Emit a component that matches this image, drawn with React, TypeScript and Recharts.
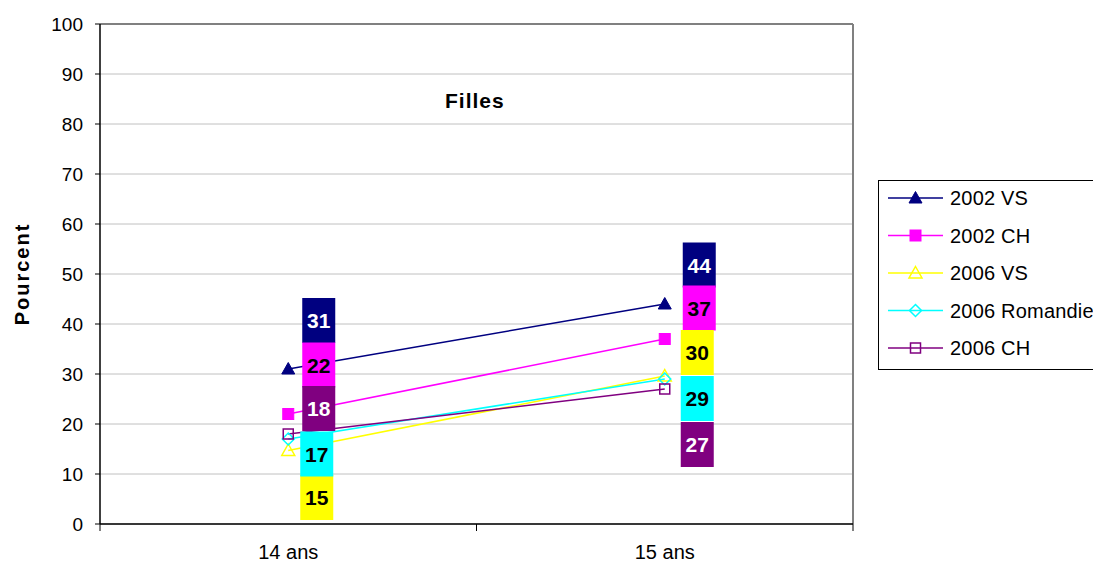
import {
  LineChart,
  Line,
  XAxis,
  YAxis,
  CartesianGrid,
  ReferenceLine,
  LabelList,
  Label,
} from "recharts";

const categories = ["14 ans", "15 ans"];
const vs2002 = [31, 44];
const ch2002 = [22, 37];
const vs2006 = [14.7, 29.6];
const romandie2006 = [17, 29];
const ch2006 = [18, 27];
const yTicks = [0, 10, 20, 30, 40, 50, 60, 70, 80, 90, 100];
const xTicks = [0, 0.5, 1, 1.5, 2];

type MarkerKind = "triangle" | "square" | "diamond";

const series = [
  { key: "vs2002", name: "2002 VS", values: vs2002, color: "#000080", marker: "triangle" as MarkerKind, filled: true, text: "#ffffff" },
  { key: "ch2002", name: "2002 CH", values: ch2002, color: "#ff00ff", marker: "square" as MarkerKind, filled: true, text: "#000000" },
  { key: "vs2006", name: "2006 VS", values: vs2006, color: "#ffff00", marker: "triangle" as MarkerKind, filled: false, text: "#000000" },
  { key: "rom2006", name: "2006 Romandie", values: romandie2006, color: "#00ffff", marker: "diamond" as MarkerKind, filled: false, text: "#000000" },
  { key: "ch2006", name: "2006 CH", values: ch2006, color: "#800080", marker: "square" as MarkerKind, filled: false, text: "#ffffff" },
];

// where each value box sits, relative to its point (px)
const labelNudge: Record<string, [number, number][]> = {
  vs2002: [[30.5, -48.5], [34.5, -39]],
  ch2002: [[30.5, -49], [34.5, -31]],
  vs2006: [[28.5, 47], [32.5, -23.5]],
  rom2006: [[28.5, 15], [32.5, 19.5]],
  ch2006: [[30.5, -25.5], [32.5, 55.5]],
};

const data = categories.map((cat, i) => {
  const row: Record<string, string | number> = { cat, pos: i + 0.5 };
  series.forEach((s) => (row[s.key] = s.values[i]));
  return row;
});

const FONT = "'Liberation Sans', Arial, sans-serif";

function Marker({ kind, cx, cy, color, filled }: { kind: MarkerKind; cx: number; cy: number; color: string; filled: boolean }) {
  const fill = filled ? color : "none";
  const sw = filled ? 1 : 1.5;
  if (kind === "triangle") {
    return <polygon points={`${cx},${cy - 6.5} ${cx + 6.5},${cy + 5} ${cx - 6.5},${cy + 5}`} fill={fill} stroke={color} strokeWidth={sw} />;
  }
  if (kind === "diamond") {
    return <polygon points={`${cx},${cy - 6} ${cx + 6},${cy} ${cx},${cy + 6} ${cx - 6},${cy}`} fill={fill} stroke={color} strokeWidth={sw} />;
  }
  const h = filled ? 5.5 : 5;
  return <rect x={cx - h} y={cy - h} width={h * 2} height={h * 2} fill={fill} stroke={color} strokeWidth={sw} />;
}

const XTick = (props: any) => {
  const { x, y, payload } = props;
  const v = payload.value as number;
  if (Number.isInteger(v)) {
    return <line x1={x} x2={x} y1={y} y2={y + 7} stroke="#000" strokeWidth={1} />;
  }
  return (
    <text x={x} y={y + 35} textAnchor="middle" fontSize={20} fontFamily={FONT} fill="#000">
      {categories[Math.floor(v)]}
    </text>
  );
};

const valueBox = (s: (typeof series)[number]) => (props: any) => {
  const { x, y, value, index } = props;
  if (x == null || y == null) return null;
  const [dx, dy] = labelNudge[s.key][index];
  const cx = x + dx;
  const cy = y + dy;
  return (
    <g key={`${s.key}-${index}`}>
      <rect x={cx - 16.5} y={cy - 22.5} width={33} height={45} fill={s.color} />
      <text x={cx} y={cy + 7.5} textAnchor="middle" fontSize={21} fontWeight="bold" fontFamily={FONT} fill={s.text}>
        {Math.round(value)}
      </text>
    </g>
  );
};

export default function App() {
  return (
    <div style={{ position: "absolute", left: 0, top: 0, width: 1093, height: 564, overflow: "hidden", background: "#fff", fontFamily: FONT }}>
      <LineChart width={1093} height={564} data={data} margin={{ top: 24, right: 240, left: 0, bottom: 0 }}>
        <CartesianGrid vertical={false} stroke="#c0c0c0" />
        <XAxis
          dataKey="pos"
          type="number"
          domain={[0, 2]}
          ticks={xTicks}
          height={40}
          tickSize={0}
          tickMargin={0}
          tickLine={false}
          axisLine={{ stroke: "#000", strokeWidth: 1.5 }}
          tick={<XTick />}
          interval={0}
        />
        <YAxis
          domain={[0, 100]}
          ticks={yTicks}
          width={100}
          tickSize={5}
          tickMargin={12}
          axisLine={{ stroke: "#000", strokeWidth: 1.5 }}
          tickLine={{ stroke: "#000" }}
          tick={{ fontSize: 19, fill: "#000", fontFamily: FONT }}
          interval={0}
        >
          <Label
            content={() => (
              <text transform="translate(29,274) rotate(-90)" textAnchor="middle" fontSize={20} fontWeight="bold" letterSpacing={2} fontFamily={FONT} fill="#000">
                Pourcent
              </text>
            )}
          />
        </YAxis>
        <ReferenceLine y={100} stroke="#808080" strokeWidth={2} />
        <ReferenceLine x={2} stroke="#808080" strokeWidth={2} />
        {series.map((s) => (
          <Line
            key={s.key}
            dataKey={s.key}
            name={s.name}
            stroke={s.color}
            strokeWidth={1.6}
            isAnimationActive={false}
            dot={(p: any) => <Marker key={`${s.key}-dot-${p.index}`} kind={s.marker} cx={p.cx} cy={p.cy} color={s.color} filled={s.filled} />}
            activeDot={false}
          >
            <LabelList dataKey={s.key} content={valueBox(s)} />
          </Line>
        ))}
      </LineChart>
      <div style={{ position: "absolute", left: 445, top: 89, fontSize: 21, fontWeight: "bold", letterSpacing: 1, color: "#000" }}>Filles</div>
      <div style={{ position: "absolute", left: 878, top: 180, width: 240, height: 190, border: "1px solid #000", boxSizing: "border-box", background: "#fff" }}>
        <svg width={240} height={190} style={{ display: "block" }}>
          {series.map((s, i) => {
            const cy = 17 + i * 37.5;
            return (
              <g key={s.key}>
                <line x1={9} x2={64} y1={cy} y2={cy} stroke={s.color} strokeWidth={1.6} />
                <Marker kind={s.marker} cx={36.5} cy={cy} color={s.color} filled={s.filled} />
                <text x={71} y={cy + 7} fontSize={20} letterSpacing={0.2} fontFamily={FONT} fill="#000">
                  {s.name}
                </text>
              </g>
            );
          })}
        </svg>
      </div>
    </div>
  );
}
